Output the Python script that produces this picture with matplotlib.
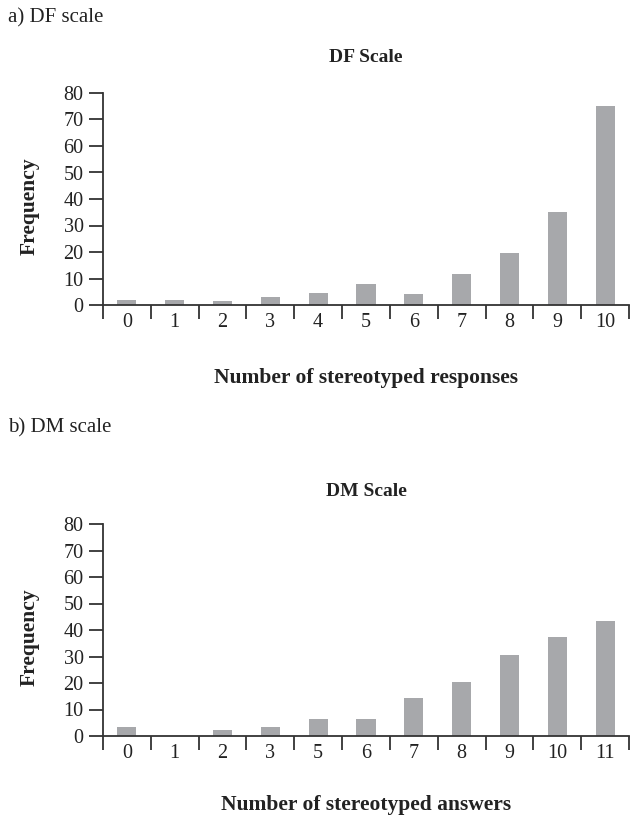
import matplotlib
matplotlib.use("Agg")
import matplotlib.pyplot as plt
import numpy as np

df_labels = ["0", "1", "2", "3", "4", "5", "6", "7", "8", "9", "10"]
df_values = [2, 2, 1.4, 3, 4.5, 8, 4.2, 11.7, 19.5, 35, 75]
dm_labels = ["0", "1", "2", "3", "5", "6", "7", "8", "9", "10", "11"]
dm_values = [3.4, 0, 2.3, 3.4, 6.4, 6.4, 14.3, 20.3, 30.5, 37.3, 43.3]

plt.rcParams['font.family'] = ['Liberation Serif', 'DejaVu Serif']
W, H = 630, 819
fig = plt.figure(figsize=(W / 100, H / 100), dpi=100)

BAR = "#a7a8ab"
AX = "#333333"
TXT = "#222222"
FS_TICK = 14.5
FS_PANEL = 15
FS_TITLE = 14
FS_LABEL = 15.5


def panel(top_px, labels, values, panel_text, title, xlabel, panel_y, title_y, xlabel_y):
    left, right, bottom = 103, 629, top_px + 212
    ax = fig.add_axes([left / W, (H - bottom) / H, (right - left) / W, 212 / H])
    x = np.arange(len(labels))
    ax.bar(x, values, width=0.4, color=BAR, zorder=2)
    ax.set_xlim(-0.5, len(labels) - 0.5)
    ax.set_ylim(0, 80)
    ax.set_yticks(np.arange(0, 81, 10))
    ax.set_xticks(x)
    ax.set_xticklabels(labels)
    ax.set_xticks(np.arange(-0.5, len(labels)), minor=True)
    for s in ["top", "right"]:
        ax.spines[s].set_visible(False)
    for s in ["left", "bottom"]:
        ax.spines[s].set_color(AX)
        ax.spines[s].set_linewidth(1.3)
    ax.tick_params(axis="y", direction="out", length=10, width=1.3, color=AX,
                   labelsize=FS_TICK, pad=4, labelcolor=TXT)
    ax.tick_params(axis="x", which="major", length=0, labelsize=FS_TICK, pad=6,
                   labelcolor=TXT)
    ax.tick_params(axis="x", which="minor", direction="out", length=10, width=1.3,
                   color=AX)
    cx = (left + right) / 2 / W
    fig.text(8 / W, 1 - panel_y / H, panel_text, fontsize=FS_PANEL, ha="left",
             va="center", color=TXT)
    fig.text(cx, 1 - title_y / H, title, fontsize=FS_TITLE, fontweight="bold",
             ha="center", va="center", color=TXT)
    fig.text(cx, 1 - xlabel_y / H, xlabel, fontsize=FS_LABEL, fontweight="bold",
             ha="center", va="center", color=TXT)
    fig.text(30 / W, 1 - (top_px + 113) / H, "Frequency", fontsize=FS_LABEL,
             fontweight="bold", rotation=90, ha="center", va="center", color=TXT)


panel(93, df_labels, df_values, "a) DF scale", "DF Scale",
      "Number of stereotyped responses", 18, 58, 378)
panel(524, dm_labels, dm_values, "b) DM scale", "DM Scale",
      "Number of stereotyped answers", 428, 492, 805)

fig.savefig("out.png", dpi=100)
